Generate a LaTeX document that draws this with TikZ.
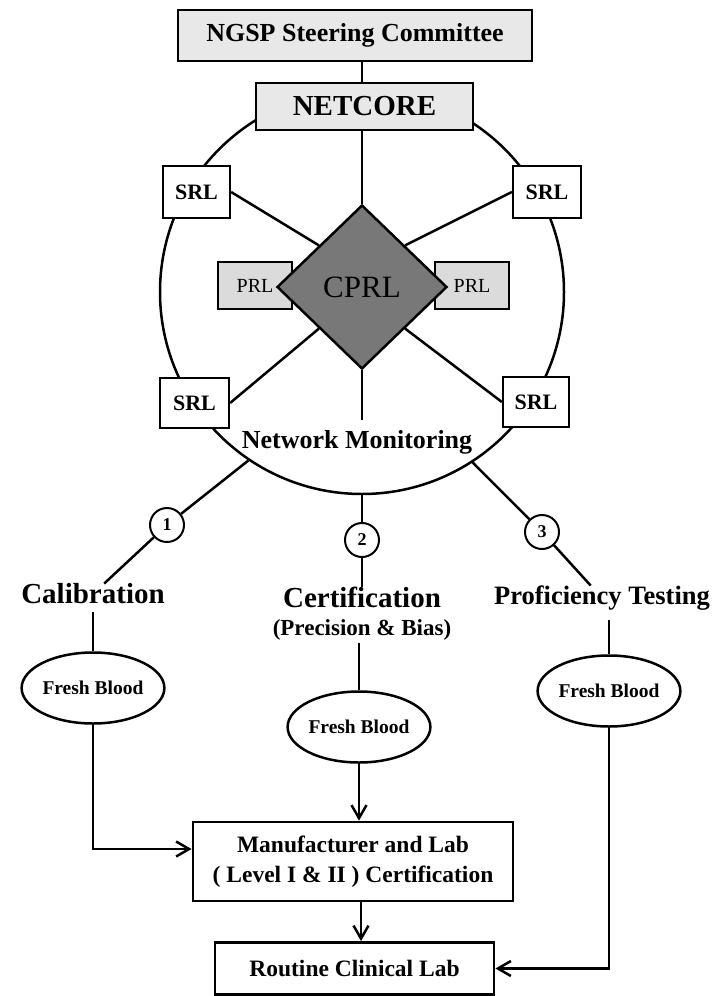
\documentclass[tikz,border=0pt]{standalone}
\usepackage{fontspec}
\setmainfont{Liberation Serif}
\usetikzlibrary{shapes.geometric,arrows.meta,backgrounds}
\definecolor{lightfill}{gray}{0.91}
\definecolor{prlfill}{gray}{0.86}
\definecolor{cprlfill}{gray}{0.47}
\begin{document}
\begin{tikzpicture}[x=1pt,y=-1pt,
  box/.style={draw, line width=2.5pt, inner sep=0pt},
  srlbox/.style={box, fill=white, line width=2.2pt, font=\bfseries\fontsize{22}{24}\selectfont},
  prlbox/.style={box, fill=prlfill, line width=2pt, minimum width=74pt, minimum height=47pt, font=\fontsize{20}{22}\selectfont},
  fb/.style={ellipse, draw, line width=2.5pt, fill=white, minimum width=134pt, minimum height=71pt, inner sep=0pt, font=\bfseries\fontsize{19.5}{21}\selectfont},
  num/.style={circle, draw, line width=2pt, fill=white, minimum size=34pt, inner sep=0pt, font=\bfseries\fontsize{18}{20}\selectfont},
  lbl/.style={inner sep=0pt, font=\bfseries\fontsize{29}{32}\selectfont},
  ln/.style={line width=2.5pt},
  arr/.style={line width=2.5pt, -{Straight Barb[length=13pt,width=15pt]}}
]
\useasboundingbox (0,0) rectangle (724,996);

% top boxes
\node[box, fill=lightfill, minimum width=354pt, minimum height=51pt, font=\bfseries\fontsize{26}{28}\selectfont] (ngsp) at (355,35.5) {NGSP Steering Committee};
\node[box, fill=lightfill, minimum width=217pt, minimum height=47pt, font=\bfseries\fontsize{29}{31}\selectfont] (netcore) at (364.5,106.5) {NETCORE};

% SRL boxes
\node[srlbox, minimum width=67pt, minimum height=52pt] (srltl) at (196.5,192) {SRL};
\node[srlbox, minimum width=68pt, minimum height=52pt] (srltr) at (547,192) {SRL};
\node[srlbox, minimum width=69pt, minimum height=50pt] (srlbl) at (194.5,403) {SRL};
\node[srlbox, minimum width=66pt, minimum height=50pt] (srlbr) at (536,402) {SRL};

% PRL and CPRL
\node[prlbox] (prll) at (255,285.5) {PRL};
\node[prlbox] (prlr) at (472,285.5) {PRL};
\node[diamond, draw, line width=2.5pt, fill=cprlfill, minimum width=170pt, minimum height=164pt, inner sep=0pt, font=\fontsize{31}{33}\selectfont] (cprl) at (362,287) {CPRL};

\node[inner sep=0pt, font=\bfseries\fontsize{26}{28}\selectfont] (netmon) at (357,442) {Network Monitoring};
\coordinate (nmtop) at (362,420);

% ring in background
\begin{scope}[on background layer]
  \node[circle, draw, line width=2.5pt, minimum size=404pt, inner sep=0pt] (ring) at (362,292) {};
\end{scope}
\draw[ln] (ngsp.south -| cprl.north) -- (netcore.north -| cprl.north);
\draw[ln] (netcore.south -| cprl.north) -- (cprl.north);
\draw[ln] (cprl.south) -- (nmtop);
\draw[ln] (srltl.east) -- (cprl.north west);
\draw[ln] (srltr.west) -- (cprl.north east);
\draw[ln] (srlbl.east) -- (cprl.south west);
\draw[ln] (srlbr.west) -- (cprl.south east);

% numbered branches
\node[num] (n1) at (167,525) {1};
\node[num] (n2) at (362,540) {2};
\node[num] (n3) at (542,532) {3};

\node[lbl] (cal) at (93,594) {Calibration};
\node[lbl, align=center] (cert) at (362,614) {Certification\\[-4pt]{\fontsize{23}{25}\selectfont(Precision \& Bias)}};
\node[lbl, font=\bfseries\fontsize{26.5}{28}\selectfont] (prof) at (602,598) {Proficiency Testing};

\draw[ln] (ring.-124) -- (n1);
\draw[ln] (n1) -- (cal);
\draw[ln] (ring.south) -- (n2);
\draw[ln] (n2) -- (cert);
\draw[ln] (ring.-57.8) -- (n3);
\draw[ln] (n3) -- (prof);

% fresh blood ellipses
\node[fb] (fb1) at (93,688) {Fresh Blood};
\node[fb] (fb2) at (359,727) {Fresh Blood};
\node[fb] (fb3) at (609,691) {Fresh Blood};

\draw[ln] ([yshift=-8pt]cal.south) -- (fb1.north);
\draw[ln] (fb2.north |- cert.south) ++(0,2) -- (fb2.north);
\draw[ln] ([yshift=-10pt]fb3.north |- prof.south) -- (fb3.north);

% bottom boxes
\node[box, line width=2.8pt, minimum width=320pt, minimum height=79pt, align=center, font=\bfseries\fontsize{23.5}{30}\selectfont] (mfg) at (353,861.5) {Manufacturer and Lab\\( Level I \& II ) Certification};
\node[box, line width=2.8pt, minimum width=279pt, minimum height=52pt, font=\bfseries\fontsize{23.5}{25}\selectfont] (rcl) at (354.5,968.5) {Routine Clinical Lab};

\draw[arr] (fb1.south) |- ([yshift=12.5pt]mfg.west);
\draw[arr] (fb2.south) -- (fb2.south |- mfg.north);
\draw[arr] ([xshift=8pt]mfg.south) -- ([xshift=8pt]mfg.south |- rcl.north);
\draw[arr] (fb3.south) |- (rcl.east);
\end{tikzpicture}
\end{document}
